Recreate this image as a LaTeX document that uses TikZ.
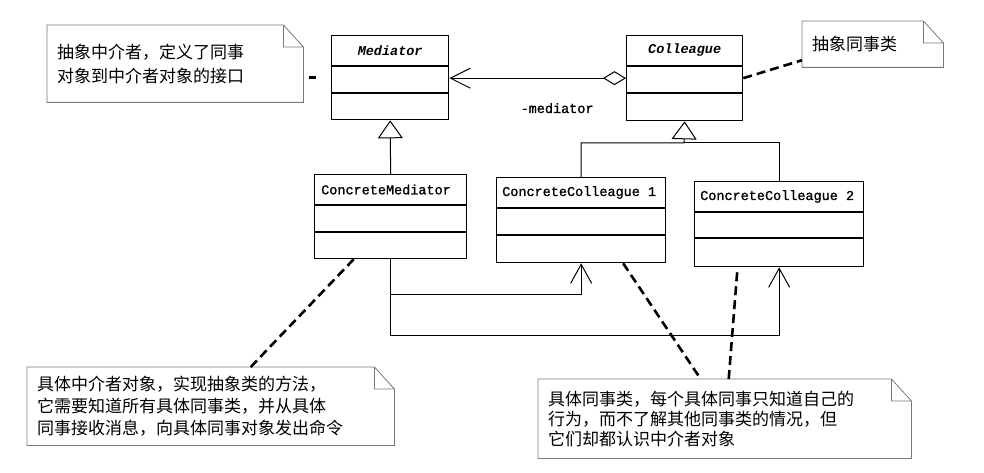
\documentclass[tikz,border=0pt]{standalone}
\usepackage{fontspec}
\setmonofont{Liberation Mono}
\newfontfamily\clsfont[FakeBold=1.2]{Liberation Mono}
\newfontfamily\cjk{Noto Sans CJK SC}
\usepackage{xcolor}
\usepackage{tikz}
\usetikzlibrary{arrows.meta, positioning}
\definecolor{note_gray}{RGB}{120, 120, 120}

\begin{document}
\begin{tikzpicture}[x=1pt, y=-1pt,
    cls/.style={draw, line width=1.3pt, anchor=north west, inner sep=0pt},
    clsname/.style={font=\clsfont\fontsize{13.5}{16}\selectfont, inner sep=0pt},
    note/.style={anchor=north west, align=left, inner xsep=10pt, inner ysep=0pt},
    noteline/.style={draw=note_gray, line width=0.8pt},
    notelink/.style={line width=2.6pt, dash pattern=on 9pt off 5pt},
    inherit/.style={line width=1pt, -{Triangle[open, length=18pt, width=25pt]}},
    navig/.style={line width=1pt, -{Straight Barb[length=19pt, width=21pt]}}]
  \fill[white] (0,0) rectangle (984,473);
  \useasboundingbox (0,0) rectangle (984,473);

  \node[cls, minimum width=117pt, minimum height=84pt] (med) at (331,35) {};
  \node[cls, minimum width=116pt, minimum height=85pt] (col) at (626,35) {};
  \node[cls, minimum width=152pt, minimum height=84pt] (cm) at (314,174) {};
  \node[cls, minimum width=169pt, minimum height=85pt] (cc1) at (496,177) {};
  \node[cls, minimum width=169pt, minimum height=85pt] (cc2) at (694,181) {};
  \foreach \c/\a/\b in {med/31/58, col/31/58, cm/31/58, cc1/31/58, cc2/31/57}
    \draw[line width=1.3pt] ([yshift=-\a]\c.north west) -- ([yshift=-\a]\c.north east)
      ([yshift=-\b]\c.north west) -- ([yshift=-\b]\c.north east);

  \node[clsname, font=\ttfamily\bfseries\itshape\fontsize{13.5}{16}\selectfont] (medname) at ([yshift=-15.5pt]med.north) {Mediator};
  \node[clsname, font=\ttfamily\bfseries\itshape\fontsize{13.5}{16}\selectfont] (colname) at ([yshift=-15.5pt]col.north) {Colleague};
  \node[clsname, anchor=west] (cmname) at ([xshift=7pt, yshift=-15.5pt]cm.north west) {ConcreteMediator};
  \node[clsname, anchor=west] (cc1name) at ([xshift=6pt, yshift=-15.5pt]cc1.north west) {ConcreteColleague 1};
  \node[clsname, anchor=west] (cc2name) at ([xshift=6pt, yshift=-15.5pt]cc2.north west) {ConcreteColleague 2};

  \node[note, text width=236pt, minimum height=77pt, font=\cjk\fontsize{17}{24}\selectfont] (n1) at (47,25)
    {抽象中介者，定义了同事\\对象到中介者对象的接口};
  \node[note, text width=121pt, minimum height=46pt, font=\cjk\fontsize{17}{22}\selectfont] (n2) at (802,21)
    {抽象同事类};
  \node[note, text width=347pt, minimum height=78pt, font=\cjk\fontsize{17}{22}\selectfont] (n3) at (27,367)
    {具体中介者对象，实现抽象类的方法，\\它需要知道所有具体同事类，并从具体\\同事接收消息，向具体同事对象发出命令};
  \node[note, text width=353pt, minimum height=79pt, font=\cjk\fontsize{17}{20}\selectfont] (n4) at (538,379)
    {具体同事类，每个具体同事只知道自己的\\行为，而不了解其他同事类的情况，但\\它们却都认识中介者对象};
  \foreach \n in {n1, n2, n3, n4}
    \draw[noteline] (\n.south west) -- (\n.north west) -- ([xshift=-20pt]\n.north east)
      -- ([yshift=-22pt]\n.north east) -- (\n.south east) -- cycle
      ([xshift=-20pt]\n.north east) |- ([yshift=-22pt]\n.north east);

  \draw[line width=1pt, {Diamond[open, length=23pt, width=14pt]}-{Straight Barb[length=20pt, width=20pt]}]
    (col.west) -- (med.east |- col.west)
    node[pos=0.39, yshift=-30pt, font=\clsfont\fontsize{13.5}{16}\selectfont] (role) {-mediator};

  \draw[inherit] (cm.north) -- (med.south);
  \coordinate (bar) at (684,143);
  \draw[inherit] (cc1.north) |- (bar) -- (col.south);
  \draw[line width=1pt] (cc2.north) |- (bar);

  \draw[navig] (cm.south) -- ++(0,35) -| (cc1.south);
  \draw[navig] (cm.south) -- ++(0,76) -| (cc2.south);

  \draw[notelink, dash pattern=on 7pt off 30pt, dash phase=31pt] (n1.east |- med.west) -- (med.west);
  \draw[notelink] (col.east) -- ([yshift=-16pt]n2.west);
  \draw[notelink] ([xshift=-37pt]cm.south) -- ([xshift=40pt]n3.north);
  \draw[notelink] ([xshift=42pt]cc1.south) -- ([xshift=-24pt]n4.north);
  \draw[notelink] ([xshift=-42pt, yshift=-5pt]cc2.south) -- ([xshift=4pt]n4.north);
\end{tikzpicture}
\end{document}
